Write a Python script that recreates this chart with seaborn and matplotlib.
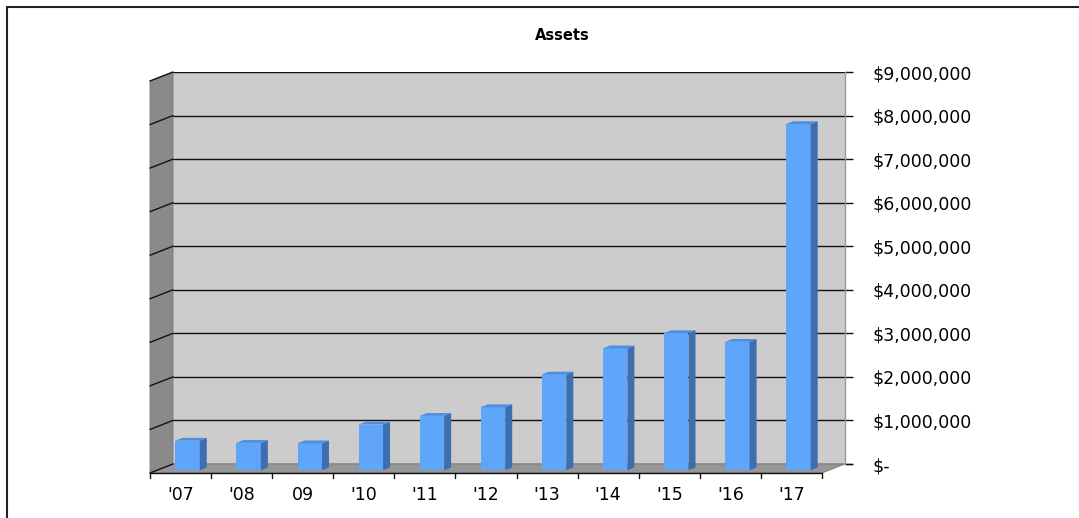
import matplotlib
matplotlib.use("Agg")
import matplotlib.pyplot as plt
from matplotlib.patches import Polygon
from matplotlib.lines import Line2D
from matplotlib.ticker import FuncFormatter
import seaborn as sns
import pandas as pd

# --- data ---
years = ["'07", "'08", "09", "'10", "'11", "'12", "'13", "'14", "'15", "'16", "'17"]
assets = [680000, 630000, 620000, 1050000, 1250000, 1450000, 2200000, 2800000, 3150000, 2950000, 7950000]
y_ticks = [0, 1e6, 2e6, 3e6, 4e6, 5e6, 6e6, 7e6, 8e6, 9e6]

W, H = 1079, 518
sns.set_style("white")
plt.rcParams["font.family"] = ["DejaVu Sans"]
plt.rcParams["text.color"] = "black"
plt.rcParams["ytick.labelcolor"] = "black"

fig = plt.figure(figsize=(W / 100, H / 100), dpi=100)
# axes = back wall of the 3d box (pixels)
L, R, B, T = 173, 845, 464, 72
ax = fig.add_axes([L / W, 1 - B / H, (R - L) / W, (B - T) / H])

df = pd.DataFrame({"year": years, "assets": assets})
sns.barplot(data=df, x="year", y="assets", color="#5FA5FA", width=0.4,
            saturation=1, ax=ax, zorder=3)

ax.set_xlim(-0.5, len(years) - 0.5)
ax.set_ylim(0, 9e6)
ax.set_facecolor("#CCCCCC")

# pixel -> data conversion
px_x = (len(years)) / (R - L)
px_y = 9e6 / (B - T)
dX, dY = 23 * px_x, 9 * px_y          # full depth of the box
fX, fY = 16 * px_x, 6.3 * px_y        # bar front face
bX, bY = 9 * px_x, 3.5 * px_y         # bar back face

# 3d bars: shift front face, add side + top
for p in ax.patches:
    x, w, h = p.get_x(), p.get_width(), p.get_height()
    p.set_x(x - fX)
    p.set_y(-fY)
    p.set_clip_on(False)
    p.set_edgecolor("none")
    side = [(x + w - fX, -fY), (x + w - bX, -bY), (x + w - bX, h - bY), (x + w - fX, h - fY)]
    top = [(x - fX, h - fY), (x + w - fX, h - fY), (x + w - bX, h - bY), (x - bX, h - bY)]
    ax.add_patch(Polygon(side, closed=True, fc="#3C6EB0", ec="none", zorder=3, clip_on=False))
    ax.add_patch(Polygon(top, closed=True, fc="#4E8FE0", ec="none", zorder=3, clip_on=False))

x0, x1 = -0.5, len(years) - 0.5
# floor
ax.add_patch(Polygon([(x0, 0), (x1, 0), (x1 - dX, -dY), (x0 - dX, -dY)], closed=True,
                     fc="#969696", ec="#777777", lw=0.6, zorder=1, clip_on=False))
# left wall
ax.add_patch(Polygon([(x0, 0), (x0, 9e6), (x0 - dX, 9e6 - dY), (x0 - dX, -dY)], closed=True,
                     fc="#8A8A8A", ec="#777777", lw=0.6, zorder=1, clip_on=False))
for yv in y_ticks:
    ax.plot([x0 - dX, x0], [yv - dY, yv], color="#111111", lw=1.0, zorder=2, clip_on=False)

# gridlines on back wall
ax.yaxis.grid(True, color="#111111", lw=1.0)
ax.set_axisbelow(True)

# right axis ticks
ax.yaxis.tick_right()
ax.set_yticks(y_ticks)
ax.yaxis.set_major_formatter(FuncFormatter(lambda v, pos: "$-" if v == 0 else "${:,.0f}".format(v)))
ax.tick_params(axis="y", length=6, width=1, color="#111111", pad=14, labelsize=12.5, labelcolor="black")
for lab in ax.get_yticklabels():
    lab.set_horizontalalignment("left")

for s in ["top", "left", "bottom"]:
    ax.spines[s].set_visible(False)
ax.spines["right"].set_color("#999999")
ax.spines["right"].set_linewidth(1)
ax.plot([x1, x1 + 7 * px_x], [0, 0], color="#111111", lw=1, clip_on=False)

# front edge of the floor = category axis
ax.set_xticks([])
ax.set_xlabel("")
ax.set_ylabel("")
ax.plot([x0 - dX, x1 - dX], [-dY, -dY], color="#111111", lw=1.0, zorder=4, clip_on=False)
for k in range(len(years) + 1):
    xb = k - 0.5 - dX
    ax.plot([xb, xb], [-dY, -dY - 5 * px_y], color="#111111", lw=1.0, clip_on=False)
for k, lab in enumerate(years):
    ax.text(k - dX, -dY - 22 * px_y, lab, ha="center", va="center", fontsize=12.5,
            color="black", clip_on=False)

fig.text(562 / W, 1 - 35 / H, "Assets", ha="center", va="center", fontsize=10.5,
         fontweight="bold", color="black")

# outer frame (top and left only)
fig.add_artist(Line2D([6.5 / W, 6.5 / W], [0, 1 - 7 / H], transform=fig.transFigure, color="#222222", lw=1.5))
fig.add_artist(Line2D([6.5 / W, 1], [1 - 7 / H, 1 - 7 / H], transform=fig.transFigure, color="#222222", lw=1.5))

fig.savefig("out.png", dpi=100)
